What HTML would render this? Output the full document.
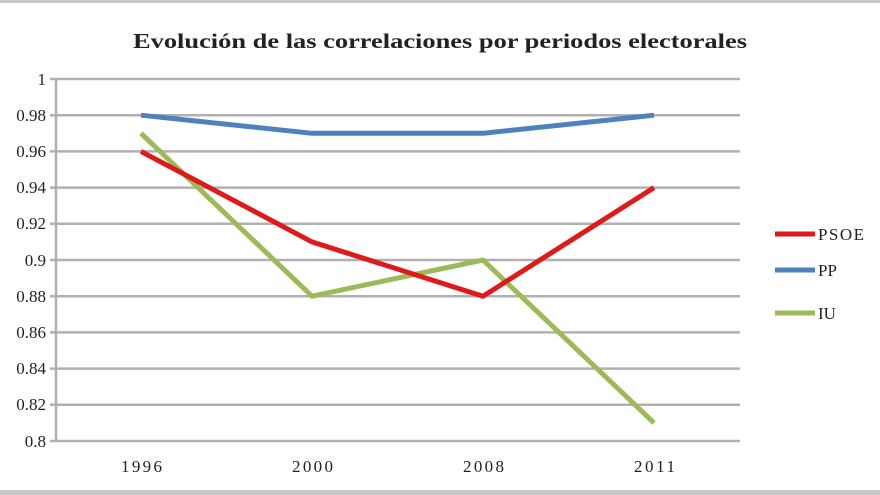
<!DOCTYPE html>
<html><head><meta charset="utf-8"><style>
html,body{margin:0;padding:0;background:#fff}
svg{display:block}
text{font-family:"Liberation Serif",serif;fill:#222}
</style></head><body>
<svg width="880" height="495" viewBox="0 0 880 495">
<rect x="0" y="0" width="880" height="495" fill="#fff"/>
<rect x="0" y="0" width="880" height="3" fill="#c8c8c8"/>
<rect x="0" y="490" width="880" height="5" fill="#c8c8c8"/>
<text x="133" y="48" font-size="21" font-weight="bold" textLength="614" lengthAdjust="spacingAndGlyphs">Evolución de las correlaciones por periodos electorales</text>
<g stroke="#b0b0b0" stroke-width="2.5">
<line x1="50" y1="79" x2="740" y2="79"/>
<line x1="50" y1="115.2" x2="740" y2="115.2"/>
<line x1="50" y1="151.4" x2="740" y2="151.4"/>
<line x1="50" y1="187.6" x2="740" y2="187.6"/>
<line x1="50" y1="223.8" x2="740" y2="223.8"/>
<line x1="50" y1="260" x2="740" y2="260"/>
<line x1="50" y1="296.2" x2="740" y2="296.2"/>
<line x1="50" y1="332.4" x2="740" y2="332.4"/>
<line x1="50" y1="368.6" x2="740" y2="368.6"/>
<line x1="50" y1="404.8" x2="740" y2="404.8"/>
<line x1="50" y1="441" x2="740" y2="441"/>
<line x1="56" y1="79" x2="56" y2="441"/>
</g>
<g font-size="17" text-anchor="end">
<text x="46" y="85">1</text>
<text x="46" y="121">0.98</text>
<text x="46" y="157">0.96</text>
<text x="46" y="193">0.94</text>
<text x="46" y="229">0.92</text>
<text x="46" y="266">0.9</text>
<text x="46" y="302">0.88</text>
<text x="46" y="338">0.86</text>
<text x="46" y="374">0.84</text>
<text x="46" y="410">0.82</text>
<text x="46" y="447">0.8</text>
</g>
<g font-size="17">
<text x="121" y="472" textLength="41">1996</text>
<text x="292" y="472" textLength="41">2000</text>
<text x="463" y="472" textLength="41">2008</text>
<text x="634" y="472" textLength="41">2011</text>
</g>
<g fill="none" stroke-width="5" stroke-linejoin="round">
<polyline stroke="#4f81bd" points="141,115.2 312,133.3 483,133.3 654,115.2"/>
<polyline stroke="#9bbb59" points="141,133.3 312,296.2 483,260 654,422.9"/>
<polyline stroke="#e01a1a" points="141,151.4 312,241.9 483,296.2 654,187.6"/>
</g>
<g stroke-width="5">
<line x1="775" y1="234" x2="815" y2="234" stroke="#e01a1a"/>
<line x1="775" y1="270" x2="815" y2="270" stroke="#4f81bd"/>
<line x1="775" y1="313" x2="815" y2="313" stroke="#9bbb59"/>
</g>
<g font-size="17">
<text x="818" y="240" textLength="46">PSOE</text>
<text x="818" y="276">PP</text>
<text x="818" y="319">IU</text>
</g>
</svg>
</body></html>
